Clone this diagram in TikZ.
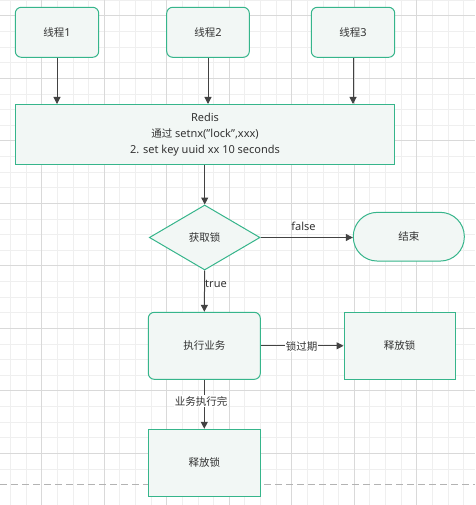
\documentclass[tikz,border=0pt]{standalone}
\usepackage{fontspec}
\setmainfont{Noto Sans}
\newfontfamily\cjk{Noto Sans CJK SC}[Scale=0.955]
\usetikzlibrary{arrows.meta,shapes.geometric}
\definecolor{gridminor}{HTML}{EFEFEF}
\definecolor{gridmajor}{HTML}{D9D9D9}
\definecolor{bordergreen}{HTML}{36B58B}
\definecolor{boxfill}{HTML}{F2F7F5}
\definecolor{txt}{HTML}{333333}
\definecolor{arrowcol}{HTML}{424242}
\definecolor{pagedash}{HTML}{B3B3B3}
\tikzset{
  every node/.style={font=\fontsize{11}{16}\selectfont, text=txt},
  basebox/.style={draw=bordergreen, fill=boxfill, line width=1pt, inner sep=0pt, align=center},
  roundbox/.style={basebox, rounded corners=6pt},
  plainbox/.style={basebox},
  decision/.style={basebox, diamond, minimum width=110.7pt, minimum height=65pt},
  terminal/.style={basebox, rounded corners=24pt},
  flow/.style={draw=arrowcol, line width=1pt, -{Triangle[length=7pt,width=7pt]}},
  edgelabel/.style={inner sep=1pt},
  boxlabel/.style={edgelabel, fill=white},
}
\begin{document}
\begin{tikzpicture}[x=1pt,y=-1pt]
\useasboundingbox (0,0) rectangle (475,505);
\fill[white] (0,0) rectangle (475,505);
% grid
\foreach \i in {0,...,30} {
  \draw[gridminor, line width=0.8pt] ({10.45+15.625*\i},0) -- ({10.45+15.625*\i},505);
  \draw[gridminor, line width=0.8pt] (0,{0.2+15.625*\i}) -- (475,{0.2+15.625*\i});
}
\foreach \i in {0,...,7} {
  \draw[gridmajor, line width=0.8pt] ({41.7+62.5*\i},0) -- ({41.7+62.5*\i},505);
  \draw[gridmajor, line width=0.8pt] (0,{15.8+62.5*\i}) -- (475,{15.8+62.5*\i});
}
\draw[pagedash, line width=1pt, dash pattern=on 7pt off 4pt] (0,484) -- (475,484);

% nodes
\node[roundbox, minimum width=83.4pt, minimum height=50pt] (t1) at (57,32.3) {{\cjk 线程}1};
\node[roundbox, minimum width=82.6pt, minimum height=50pt] (t2) at (208,32.3) {{\cjk 线程}2};
\node[roundbox, minimum width=83.4pt, minimum height=50pt] (t3) at (353,32.3) {{\cjk 线程}3};
\node[plainbox, minimum width=379.4pt, minimum height=60pt] (redis) at (205,134.5)
  {Redis\\{\cjk 通过} setnx("lock",xxx)\\2. set key uuid xx 10 seconds};
\node[decision] (lock) at (204.7,237.5) {\cjk 获取锁};
\node[terminal, minimum width=111pt, minimum height=48.7pt] (end) at (408.8,236.7) {\cjk 结束};
\node[roundbox, minimum width=112pt, minimum height=67pt] (exec) at (204.3,345.8) {\cjk 执行业务};
\node[plainbox, minimum width=111.3pt, minimum height=67pt] (rel1) at (399.7,345.8) {\cjk 释放锁};
\node[plainbox, minimum width=112pt, minimum height=67pt] (rel2) at (204.3,462.8) {\cjk 释放锁};

% connectors
\draw[flow] (t1.south) -- (t1.south |- redis.north);
\draw[flow] (t2.south) -- (t2.south |- redis.north);
\draw[flow] (t3.south) -- (t3.south |- redis.north);
\draw[flow] (redis.south -| lock.north) -- (lock.north);
\draw[flow] (lock.east) -- (end.west |- lock.east);
\draw[flow] (lock.south) -- (exec.north);
\draw[flow] (exec.east) -- (rel1.west);
\draw[flow] (exec.south) -- (rel2.north);

% labels
\node[edgelabel] (lfalse) at (303.5,226.7) {false};
\node[edgelabel] (ltrue) at (216,284.3) {true};
\node[boxlabel] (lexp) at (301.7,346.5) {\cjk 锁过期};
\node[boxlabel] (ldone) at (201.2,401.2) {\cjk 业务执行完};
\end{tikzpicture}
\end{document}
